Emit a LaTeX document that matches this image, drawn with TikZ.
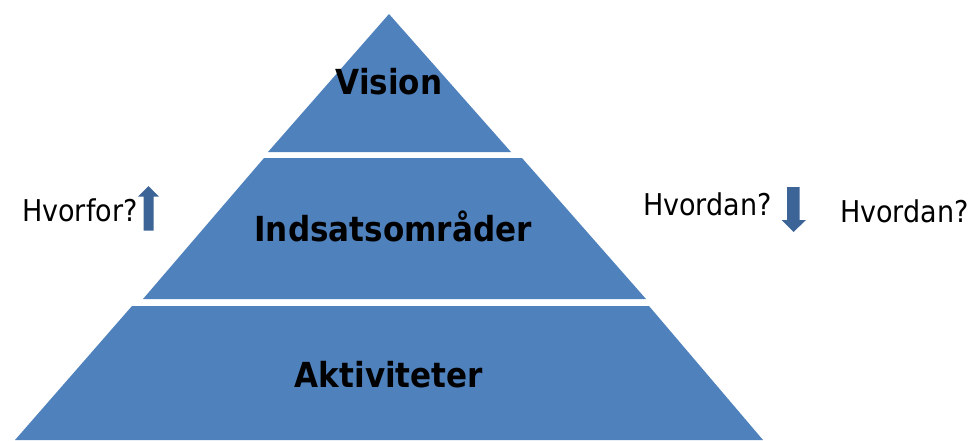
\documentclass[tikz,border=0pt]{standalone}
\usepackage{fontspec}
\setmainfont{DejaVu Sans Condensed}
\usepackage{tikz}
\definecolor{tierblue}{HTML}{4F81BD}
\definecolor{arrowblue}{HTML}{3C6496}
\tikzset{
  tierlabel/.style={anchor=base,inner sep=0pt,font=\fontsize{34.5}{40}\selectfont\bfseries},
  sidelabel/.style={anchor=base west,inner sep=0pt,font=\fontsize{30}{36}\selectfont}
}

\begin{document}
\begin{tikzpicture}[x=1pt,y=-1pt]
  \useasboundingbox (0,0) rectangle (974,440);
  \fill[tierblue] (389,14) -- (511,152) -- (268,152) -- cycle;             % top tier
  \fill[tierblue] (264,158) -- (522,158) -- (646,299) -- (143,299) -- cycle; % middle tier
  \fill[tierblue] (132,306) -- (649,306) -- (763,440) -- (15,440) -- cycle;  % bottom tier
  \node[tierlabel] (vision) at (389,94) {Vision};
  \node[tierlabel] (indsats) at (393,241) {Indsatsområder};
  \node[tierlabel] (aktiv) at (389,387) {Aktiviteter};
  \node[sidelabel] (hvorfor) at (22,221.5) {Hvorfor?};
  \node[sidelabel] (hvordanA) at (643,215) {Hvordan?};
  \node[sidelabel] (hvordanB) at (840,222.5) {Hvordan?};
  \fill[arrowblue] (143.5,230.5) -- (143.5,196.5) -- (138,196.5) -- (148.5,186)
    -- (159,196.5) -- (153.5,196.5) -- (153.5,230.5) -- cycle;            % up arrow
  \fill[arrowblue] (787,187) -- (799.5,187) -- (799.5,220) -- (806,220)
    -- (793.5,232) -- (781.5,220) -- (787,220) -- cycle;                  % down arrow
\end{tikzpicture}
\end{document}
